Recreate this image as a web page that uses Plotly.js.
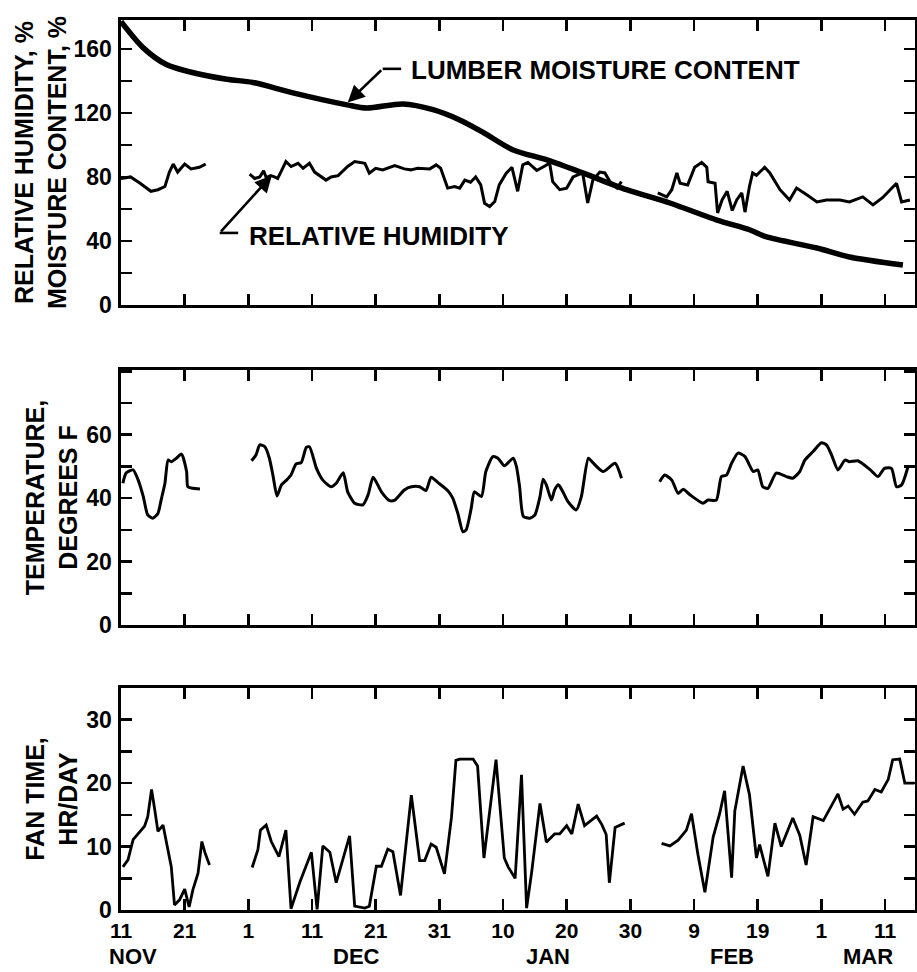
<!DOCTYPE html>
<html>
<head>
<meta charset="utf-8">
<script src="https://cdn.plot.ly/plotly-3.0.1.min.js"></script>
<style>html,body{margin:0;padding:0;background:#fff;}#chart{width:917px;height:972px;}</style>
</head>
<body>
<div id="chart"></div>
<script>
// Day index: 0 = Nov 11
const tickDays = [0, 10, 20, 30, 40, 50, 60, 70, 80, 90, 100, 110, 120];
const tickLabels = ['11', '21', '1', '11', '21', '31', '10', '20', '30', '9', '19', '1', '11'];
const monthNames = ['NOV', 'DEC', 'JAN', 'FEB', 'MAR'];
const monthDays = [1.9, 37, 67, 96, 117.3];

// Lumber moisture content, %
const mcDays = [0, 3.5, 7.2, 10.4, 16.6, 20.7, 27, 35.5, 38.6, 44.3, 49, 53.2, 56.8, 61.5, 66.9, 72.5, 79.4, 86.2, 93.6, 98.7, 101.4, 109.3, 114.4, 122.8];
const mcVals = [177, 160.6, 150, 146, 141, 139, 132.5, 125, 123, 125.6, 122, 115.6, 108, 97, 90.6, 82.5, 72, 63.7, 53, 47, 42.5, 35.6, 30, 25];

// Relative humidity, % (null = gap in record)
const rhDays = [0, 1.5, 3, 4.7, 5.8, 6.9, 7.6, 8.2, 8.9, 10, 11, 12.3, 13.3, 16,
  20.2, 21, 21.8, 22.4, 22.8, 23.5, 24.1, 24.6, 25.1, 25.9, 26.7, 27.8, 28.6, 29.6, 30.4, 31.4, 32.2, 33, 34.1, 35.6, 36.7, 38.3, 39, 40, 41.1, 43, 44.5, 45.5, 46.6, 48.5, 49.5, 50.2, 50.9, 51.3, 52.4, 53.2, 54, 54.9, 55.7, 56.5, 57.1, 57.9, 58.7, 59.4, 60.5, 61.4, 62.3, 63.1, 63.9, 65.3, 66.9, 67.3, 67.8, 68.9, 70, 71, 72.5, 73.3, 74.1, 75.2, 76, 76.8, 77.9, 78.6, 81,
  84.3, 85.7, 86.5, 87.3, 87.8, 89, 90.1, 91.2, 92, 92.2, 93.3, 93.7, 94.4, 95.2, 96, 96.7, 97.5, 98, 98.7, 99.2, 99.8, 101.1, 101.9, 103.5, 105, 106.1, 107.7, 109.3, 110.8, 112.9, 114.4, 116.5, 118.1, 119.6, 121.8, 122.6, 123.9];
const rhVals = [79, 80, 76, 71, 72, 74, 83, 88, 83, 88, 85, 86, 88, null,
  81.7, 79, 80, 83.8, 79.6, 80.8, 80, 79, 83, 89.6, 86.5, 88.5, 85.4, 88.5, 83, 80, 78, 80, 80.8, 86.5, 89.6, 88.5, 82.3, 85.4, 84.4, 87, 85, 84.4, 85.4, 85, 87.5, 85.4, 77, 73, 74, 73, 78, 76.7, 80, 75, 63.5, 61.5, 64.6, 75, 82.3, 86, 71, 87.5, 89, 84, 87.5, 89, 77, 72, 73, 80, 82.5, 63.7, 78, 83, 82.5, 77, 73, 77, null,
  70, 67.5, 72, 82.5, 76, 75, 86, 89, 86, 77, 76, 57.5, 65.6, 71, 59, 65.6, 70, 58, 74, 82.5, 81, 86, 82.5, 72, 65.6, 73, 68.8, 64.4, 65.6, 65.6, 64.4, 67.5, 62.5, 67, 76, 64.4, 65.6];

// Temperature, degrees F
const tempDays = [0.3, 0.8, 1.9, 2.7, 3.5, 4.2, 5, 5.8, 6.3, 6.9, 7.4, 7.9, 8.7, 9.5, 10.3, 10.5, 11.3, 12.4, 16,
  20.5, 21.2, 21.8, 22.6, 23.3, 23.9, 24.5, 25.2, 26, 26.7, 27.5, 28.3, 29.1, 29.6, 30.7, 31.7, 33, 33.8, 34.9, 35.6, 36.7, 38, 38.8, 39.6, 40.9, 42.2, 43, 44.5, 45.6, 46.9, 47.9, 48.7, 49.8, 51.3, 52.1, 52.9, 53.7, 54.2, 55, 55.5, 56.6, 57.3, 58.4, 59.2, 60.2, 61.6, 62.1, 62.6, 63.2, 64.2, 65, 65.8, 66.3, 66.8, 67.6, 68.1, 68.7, 69.4, 70.2, 71.5, 72.3, 73.4, 74.1, 75.7, 77.6, 78.6, 81,
  84.6, 85.4, 86.5, 87.5, 88.3, 89.4, 91.4, 92.2, 93.5, 94.3, 95.1, 95.9, 96.9, 98, 99.3, 100, 100.8, 101.6, 102.9, 104.5, 105.5, 106.6, 107.4, 108.7, 110, 110.8, 111.6, 112.6, 113.7, 114.4, 115.7, 117.6, 118.9, 119.9, 121, 121.8, 122.6, 123.6];
const tempVals = [44.7, 47.9, 48.9, 45.7, 40.5, 34.7, 33.7, 35.2, 39.4, 44.7, 52, 51.5, 52.6, 53.9, 48.4, 43.6, 43.1, 42.9, null,
  51.8, 53.6, 56.8, 56.2, 52.6, 46.8, 40.7, 44.2, 45.7, 47.3, 50.8, 51.2, 56, 56.2, 49.4, 45.7, 43.6, 44.7, 48, 42, 38.4, 37.9, 41, 46.6, 42, 39.2, 39.4, 42.6, 43.6, 43.6, 42.4, 46.6, 44.9, 42.4, 40, 35.2, 29.4, 30, 36.8, 42, 40.5, 48.4, 53.1, 52.6, 50.2, 52.6, 50, 43.6, 34.2, 33.7, 34.7, 40.5, 46, 44.2, 39.4, 42.6, 44.2, 42, 38.9, 36.3, 40.5, 52.6, 51.2, 48.4, 51, 46.3, null,
  45.2, 47.3, 45.7, 41.5, 42.8, 41, 38.4, 39.4, 39.4, 46.8, 47.3, 51, 54.2, 53.1, 48.4, 48.9, 43.6, 43.1, 47.9, 46.8, 46.3, 48.4, 52, 54.7, 57.5, 56.8, 53.6, 48.9, 52, 51.5, 51.8, 49.1, 46.8, 49.4, 49.4, 43.6, 44.2, 49.9];

// Fan time, hr/day
const fanDays = [0.3, 1.1, 1.9, 2.7, 3.7, 4.2, 4.8, 5.3, 5.8, 6.6, 7.4, 7.9, 8.4, 9.2, 10, 10.7, 11.3, 12.1, 12.7, 13.2, 13.9, 16,
  20.6, 21.5, 21.9, 22.8, 23.6, 24.8, 25.9, 26.7, 28.1, 29.9, 30.8, 31.7, 32.8, 33.8, 35.9, 36.7, 38.3, 39, 40.1, 40.9, 41.9, 42.7, 43.9, 45.6, 46.9, 47.7, 48.7, 49.5, 50.8, 51.9, 52.6, 53.2, 55.3, 56, 57, 58.9, 60.2, 60.8, 61.9, 62.9, 63.7, 64.5, 65.8, 66.8, 68.1, 68.9, 70, 70.8, 71.8, 72.8, 74.7, 75.5, 76.2, 76.7, 77.6, 79.1, 81,
  84.9, 86.2, 87.5, 88.8, 89.6, 90.6, 91.7, 93, 94, 94.8, 95.9, 96.4, 97.7, 98.7, 99.8, 100.3, 101.6, 102.7, 103.7, 105.5, 106.6, 107.6, 108.7, 110.3, 112.6, 113.4, 114.2, 115.2, 116.5, 117.3, 118.4, 119.4, 120.5, 121.2, 122.3, 123.1, 124.6];
const fanVals = [6.8, 7.9, 11.1, 12.1, 13.2, 14.7, 19, 15.8, 12.4, 13.4, 9.5, 6.8, 0.8, 1.6, 3.3, 0.5, 3.2, 5.8, 10.8, 9, 7.1, null,
  6.7, 9.5, 12.6, 13.4, 10.8, 8.4, 12.6, 0.2, 4.4, 9.1, 0.1, 10.1, 9.1, 4.3, 11.7, 0.6, 0.3, 0.6, 6.9, 6.9, 9.6, 9.2, 2.3, 18.1, 7.8, 7.8, 10.4, 9.9, 5.7, 14.6, 23.6, 23.8, 23.8, 22.7, 8.2, 23.7, 8.2, 6.8, 5.0, 21.3, 0.3, 6.0, 16.8, 10.7, 12.0, 12.0, 13.3, 12.0, 16.7, 13.3, 14.8, 13.5, 11.9, 4.3, 13.0, 13.7, null,
  10.5, 10.1, 11.0, 12.6, 15.2, 8.8, 2.8, 11.5, 15.1, 18.8, 5.1, 15.6, 22.7, 18.2, 8.2, 10.3, 5.3, 13.7, 10.0, 14.5, 11.8, 7.1, 14.7, 14.1, 18.3, 15.9, 16.4, 15.1, 17.0, 17.2, 19.0, 18.6, 20.6, 23.7, 23.8, 20.0, 20.0];

const FAM = 'Liberation Sans, Arial, Helvetica, sans-serif';
const tickFont = {family: FAM, size: 23, color: '#000', weight: 'bold'};
const xTickFont = {family: FAM, size: 21, color: '#000', weight: 'bold'};
const monthFont = {family: FAM, size: 22, color: '#000', weight: 'bold'};
const titleFont = {family: FAM, size: 25, color: '#000', weight: 'bold'};
const annFont = {family: FAM, size: 26, color: '#000', weight: 'bold'};

const traces = [
  {x: mcDays, y: mcVals, xaxis: 'x3', yaxis: 'y3', type: 'scatter', mode: 'lines',
   line: {color: '#000', width: 5.5, shape: 'spline', smoothing: 0.8}, name: 'Lumber moisture content'},
  {x: rhDays, y: rhVals, xaxis: 'x3', yaxis: 'y3', type: 'scatter', mode: 'lines', connectgaps: false,
   line: {color: '#000', width: 3}, name: 'Relative humidity'},
  {x: tempDays, y: tempVals, xaxis: 'x2', yaxis: 'y2', type: 'scatter', mode: 'lines', connectgaps: false,
   line: {color: '#000', width: 3, shape: 'spline', smoothing: 0.6}, name: 'Temperature'},
  {x: fanDays, y: fanVals, xaxis: 'x', yaxis: 'y', type: 'scatter', mode: 'lines', connectgaps: false,
   line: {color: '#000', width: 2.8}, name: 'Fan time'}
];

const axBase = {showline: true, linewidth: 2.6, linecolor: '#000', mirror: 'ticks', ticks: 'inside',
  ticklen: 11, tickwidth: 2.6, tickcolor: '#000', showgrid: false, zeroline: false, fixedrange: true};
const xRange = [0, 124.7];
function xax(extra) {
  return Object.assign({}, axBase, {range: xRange, tickmode: 'array', tickvals: tickDays, ticktext: tickLabels,
    tickfont: xTickFont, ticklabelstandoff: 0}, extra);
}
function yax(extra) {
  return Object.assign({}, axBase, {tickmode: 'array', tickfont: tickFont, ticklabelstandoff: 2}, extra);
}

const monthAnn = monthNames.map((m, i) => ({
  text: m, x: monthDays[i], xref: 'x', y: -0.052, yref: 'paper', showarrow: false,
  font: monthFont, xanchor: 'center', yanchor: 'middle'
}));

const layout = {
  width: 917, height: 972,
  margin: {l: 121, r: 2, t: 20, b: 62},
  paper_bgcolor: '#fff', plot_bgcolor: '#fff',
  showlegend: false,
  xaxis: xax({anchor: 'y', domain: [0, 1]}),
  xaxis2: xax({anchor: 'y2', matches: 'x', showticklabels: false}),
  xaxis3: xax({anchor: 'y3', matches: 'x', showticklabels: false}),
  yaxis: yax({domain: [0, 0.2494], range: [0, 35], tickvals: [0, 10, 20, 30],
    minor: {dtick: 5, tick0: 0, ticks: 'inside', ticklen: 11, tickwidth: 2.6, tickcolor: '#000'},
    title: {text: 'FAN TIME,<br>HR/DAY', font: titleFont, standoff: 2}}),
  yaxis2: yax({domain: [0.3202, 0.6067], range: [0, 80.4], tickvals: [0, 20, 40, 60],
    minor: {dtick: 10, tick0: 0, ticks: 'inside', ticklen: 11, tickwidth: 2.6, tickcolor: '#000'},
    title: {text: 'TEMPERATURE,<br>DEGREES F', font: titleFont, standoff: 2}}),
  yaxis3: yax({domain: [0.6798, 1], range: [0, 178], tickvals: [0, 40, 80, 120, 160],
    minor: {dtick: 20, tick0: 0, ticks: 'inside', ticklen: 11, tickwidth: 2.6, tickcolor: '#000'},
    title: {text: 'RELATIVE HUMIDITY, %<br>MOISTURE CONTENT, %', font: titleFont, standoff: 0}}),
  annotations: [
    {text: 'LUMBER MOISTURE CONTENT', x: 45.2, xref: 'x3', y: 146.5, yref: 'y3', showarrow: false,
     xanchor: 'left', yanchor: 'middle', font: annFont},
    {text: '', x: 35.6, y: 126.5, xref: 'x3', yref: 'y3', ax: 41.1, ay: 147.5, axref: 'x3', ayref: 'y3',
     showarrow: true, arrowhead: 2, arrowsize: 1.3, arrowwidth: 2.6, arrowcolor: '#000', standoff: 0},
    {text: 'RELATIVE HUMIDITY', x: 19.8, xref: 'x3', y: 43, yref: 'y3', showarrow: false,
     xanchor: 'left', yanchor: 'middle', font: annFont},
    {text: '', x: 23.7, y: 81, xref: 'x3', yref: 'y3', ax: 15.5, ay: 45, axref: 'x3', ayref: 'y3',
     showarrow: true, arrowhead: 2, arrowsize: 1.3, arrowwidth: 2.6, arrowcolor: '#000', standoff: 0}
  ].concat(monthAnn),
  shapes: [
    {type: 'line', xref: 'x3', yref: 'y3', x0: 41.1, x1: 44.0, y0: 147.5, y1: 147.5, line: {color: '#000', width: 2.6}},
    {type: 'line', xref: 'x3', yref: 'y3', x0: 15.5, x1: 18.4, y0: 45, y1: 45, line: {color: '#000', width: 2.6}}
  ]
};

Plotly.newPlot('chart', traces, layout, {displayModeBar: false, staticPlot: true});
</script>
</body>
</html>
